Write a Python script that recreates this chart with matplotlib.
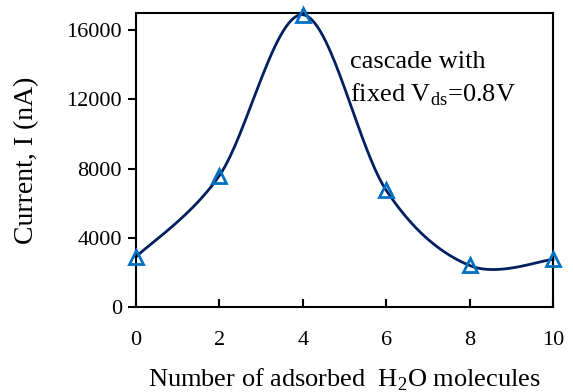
import numpy as np
import matplotlib
matplotlib.use("Agg")
import matplotlib.pyplot as plt

# data
molecules = [0, 2, 4, 6, 8, 10]
current = [2900, 7600, 16900, 6750, 2400, 2750]

plt.rcParams['font.family'] = ['Liberation Serif', 'DejaVu Serif']
plt.rcParams['mathtext.fontset'] = 'custom'
plt.rcParams['mathtext.rm'] = 'Liberation Serif'


def smooth_line(x, y, n=60):
    # Catmull-Rom style smoothing, like a spreadsheet "smoothed line"
    x = np.asarray(x, float)
    y = np.asarray(y, float)
    px = np.concatenate([[x[0]], x, [x[-1]]])
    py = np.concatenate([[y[0]], y, [y[-1]]])
    xs, ys = [], []
    t = np.linspace(0, 1, n)
    for i in range(1, len(px) - 2):
        p0 = np.array([px[i], py[i]])
        p3 = np.array([px[i + 1], py[i + 1]])
        p1 = p0 + (np.array([px[i + 1], py[i + 1]]) - np.array([px[i - 1], py[i - 1]])) / 6
        p2 = p3 - (np.array([px[i + 2], py[i + 2]]) - np.array([px[i], py[i]])) / 6
        b = ((1 - t) ** 3)[:, None] * p0 + (3 * (1 - t) ** 2 * t)[:, None] * p1 \
            + (3 * (1 - t) * t ** 2)[:, None] * p2 + (t ** 3)[:, None] * p3
        xs.extend(b[:, 0])
        ys.extend(b[:, 1])
    return xs, ys


fig = plt.figure(figsize=(5.73, 3.92), dpi=100)
ax = fig.add_axes([136 / 573, 1 - 307 / 392, (553 - 136) / 573, (307 - 13) / 392])

sx, sy = smooth_line(molecules, current)
ax.plot(sx, sy, color='#002060', lw=2, zorder=2, clip_on=False)
ax.plot(molecules, current, ls='none', marker='^', ms=10, mfc='none',
        mec='#0070C0', mew=2, zorder=3, clip_on=False)

ax.set_xlim(0, 10)
ax.set_ylim(0, 17000)
ax.set_xticks([0, 2, 4, 6, 8, 10])
ax.set_yticks([0, 4000, 8000, 12000, 16000])
ax.tick_params(axis='x', direction='in', length=6, width=1.5, labelsize=16, pad=17)
ax.tick_params(axis='y', direction='out', length=6, width=1.5, labelsize=16, pad=4)
for s in ax.spines.values():
    s.set_linewidth(1.5)

ax.set_xlabel('Number of adsorbed  H$_2$O molecules', fontsize=19, labelpad=12)
ax.set_ylabel('Current, I (nA)', fontsize=20, labelpad=20)

ax.text(5.13, 13820, 'cascade with', fontsize=19, va='baseline')
ax.text(5.13, 11900, 'fixed V$_{\\mathrm{ds}}$=0.8V', fontsize=19, va='baseline')

fig.savefig('out.png', dpi=100)
